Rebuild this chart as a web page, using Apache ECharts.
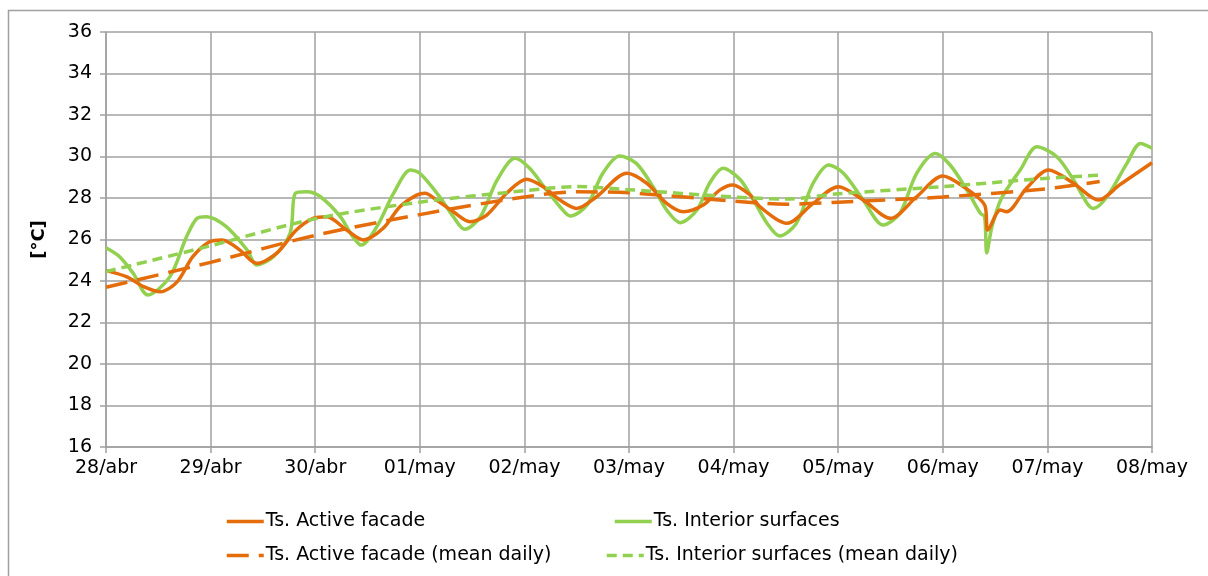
<!DOCTYPE html>
<html>
<head>
<meta charset="utf-8">
<script src="https://cdn.jsdelivr.net/npm/echarts@6/dist/echarts.min.js"></script>
<style>
  html, body { margin: 0; padding: 0; background: #fff; }
  #chart { width: 1208px; height: 576px; }
</style>
</head>
<body>
<div id="chart"></div>
<script>
// eje X: dias desde 28/abr
var dayLabels = ['28/abr', '29/abr', '30/abr', '01/may', '02/may', '03/may', '04/may', '05/may', '06/may', '07/may', '08/may'];

// Ts. Active facade
var activeDays = [0, 0.20, 0.36, 0.52, 0.68, 0.83, 0.99, 1.11, 1.28, 1.44, 1.63, 1.82, 1.98, 2.11, 2.30, 2.46, 2.65, 2.81, 2.97, 3.05,
    3.16, 3.32, 3.48, 3.64, 3.83, 4.02, 4.18, 4.34, 4.50, 4.69, 4.98, 5.17, 5.36, 5.52, 5.71, 5.87, 5.99, 6.16, 6.25, 6.51,
    6.76, 7.00, 7.24, 7.50, 7.75, 8.00, 8.20, 8.40, 8.43, 8.55, 8.61, 8.80, 9.01, 9.25, 9.49, 9.69, 10.0];
var activeVals = [24.5, 24.2, 23.73, 23.48, 23.96, 25.17, 25.89, 25.98, 25.49, 24.85, 25.33, 26.46, 27.02, 27.1, 26.46, 25.98, 26.54, 27.58, 28.14, 28.23,
    27.9, 27.34, 26.86, 27.18, 28.23, 28.9, 28.54, 27.9, 27.5, 28.06, 29.19, 28.71, 27.74, 27.34, 27.66, 28.39, 28.63, 28.14, 27.58, 26.78,
    27.74, 28.54, 27.9, 27.02, 28.06, 29.06, 28.54, 27.66, 26.46, 27.42, 27.34, 28.47, 29.35, 28.71, 27.9, 28.63, 29.7];

// Ts. Interior surfaces
var interiorDays = [0, 0.13, 0.26, 0.40, 0.61, 0.77, 0.87, 0.96, 1.15, 1.35, 1.44, 1.60, 1.76, 1.81, 1.92, 2.05, 2.24, 2.36, 2.44, 2.59,
    2.75, 2.91, 3.00, 3.19, 3.32, 3.43, 3.58, 3.74, 3.91, 4.05, 4.21, 4.34, 4.44, 4.60, 4.75, 4.91, 5.07, 5.23, 5.36, 5.49,
    5.65, 5.77, 5.90, 6.06, 6.19, 6.32, 6.44, 6.60, 6.76, 6.91, 7.05, 7.24, 7.43, 7.59, 7.75, 7.93, 8.07, 8.23, 8.36, 8.40,
    8.42, 8.47, 8.56, 8.74, 8.90, 9.09, 9.25, 9.38, 9.44, 9.57, 9.76, 9.89, 10.0];
var interiorVals = [25.6, 25.17, 24.37, 23.33, 24.2, 26.13, 27.02, 27.1, 26.62, 25.49, 24.77, 25.17, 26.3, 28.23, 28.3, 28.06, 27.1, 26.13, 25.73, 26.62,
    28.23, 29.35, 29.19, 28.06, 27.1, 26.49, 27.1, 28.87, 29.91, 29.43, 28.39, 27.58, 27.13, 27.66, 29.19, 30.02, 29.67, 28.54, 27.42, 26.81,
    27.42, 28.71, 29.43, 28.9, 27.9, 26.78, 26.17, 26.78, 28.71, 29.59, 29.19, 27.9, 26.7, 27.26, 29.19, 30.15, 29.59, 28.39, 27.26, 27.1,
    25.35, 26.62, 27.98, 29.35, 30.47, 29.99, 28.87, 27.74, 27.5, 28.06, 29.67, 30.63, 30.4];

// medias diarias
var meanDays = [0, 1, 2, 3, 4, 4.5, 5, 6, 6.5, 7, 8, 9, 9.5];
var activeMean = [23.7, 24.9, 26.2, 27.2, 28.05, 28.3, 28.25, 27.85, 27.7, 27.8, 28.05, 28.45, 28.8];
var interiorMean = [24.45, 25.7, 27.0, 27.8, 28.35, 28.55, 28.4, 28.05, 27.95, 28.2, 28.55, 28.95, 29.1];

var yTicks = [16, 36, 2]; // min, max, paso

function pairs(xs, ys) {
    return xs.map(function (x, i) { return [x, ys[i]]; });
}

var ORANGE = '#E46C0A';
var GREEN = '#92D050';
var GRID = '#A0A0A0';
var FONT = 'DejaVu Sans';
var FSIZE = 19;

var myChart = echarts.init(document.getElementById('chart'), null, { renderer: 'canvas' });

function oneLegend(name, left, top) {
    return {
        data: [name],
        left: left,
        top: top,
        padding: 0,
        itemWidth: 37,
        itemHeight: 14,
        itemGap: 0,
        itemStyle: { opacity: 0 },
        lineStyle: { width: 3.5 },
        textStyle: { fontFamily: FONT, fontSize: FSIZE, color: '#000', padding: [0, 0, 0, -3] },
        selectedMode: false
    };
}

var option = {
    animation: false,
    backgroundColor: '#fff',
    graphic: [{
        type: 'rect',
        shape: { x: 8.5, y: 10.5, width: 1220, height: 600 },
        style: { fill: 'none', stroke: '#A0A0A0', lineWidth: 1.5 },
        silent: true
    }],
    grid: { left: 106, right: 56, top: 32, bottom: 129 },
    legend: [
        oneLegend('Ts. Active facade', 225, 512),
        oneLegend('Ts. Interior surfaces', 613, 512),
        oneLegend('Ts. Active facade (mean daily)', 225, 546),
        oneLegend('Ts. Interior surfaces (mean daily)', 605, 546)
    ],
    xAxis: {
        type: 'value',
        min: 0,
        max: 10,
        interval: 1,
        axisLine: { show: true, onZero: false, lineStyle: { color: GRID, width: 1.5 } },
        axisTick: { show: true, length: 6, lineStyle: { color: GRID, width: 1.5 } },
        axisLabel: {
            fontFamily: FONT, fontSize: FSIZE, color: '#000', margin: 12,
            formatter: function (v) { return dayLabels[Math.round(v)]; }
        },
        splitLine: { show: true, lineStyle: { color: GRID, width: 1.5 } }
    },
    yAxis: {
        type: 'value',
        min: yTicks[0],
        max: yTicks[1],
        interval: yTicks[2],
        name: '[°C]',
        nameLocation: 'middle',
        nameGap: 58,
        nameTextStyle: { fontFamily: FONT, fontSize: 18, fontWeight: 'bold', color: '#000' },
        axisLine: { show: true, lineStyle: { color: GRID, width: 1.5 } },
        axisTick: { show: true, length: 6, lineStyle: { color: GRID, width: 1.5 } },
        axisLabel: { fontFamily: FONT, fontSize: FSIZE, color: '#000', margin: 14 },
        splitLine: { show: true, lineStyle: { color: GRID, width: 1.5 } }
    },
    series: [
        {
            name: 'Ts. Active facade',
            type: 'line',
            data: pairs(activeDays, activeVals),
            showSymbol: false,
            symbol: 'none',
            smooth: 0.3,
            lineStyle: { color: ORANGE, width: 3.5 },
            itemStyle: { color: ORANGE },
            z: 3
        },
        {
            name: 'Ts. Interior surfaces',
            type: 'line',
            data: pairs(interiorDays, interiorVals),
            showSymbol: false,
            symbol: 'none',
            smooth: 0.3,
            lineStyle: { color: GREEN, width: 3.5 },
            itemStyle: { color: GREEN },
            z: 2
        },
        {
            name: 'Ts. Active facade (mean daily)',
            type: 'line',
            data: pairs(meanDays, activeMean),
            showSymbol: false,
            symbol: 'none',
            smooth: 0.3,
            lineStyle: { color: ORANGE, width: 3.5, type: [22, 10] },
            itemStyle: { color: ORANGE },
            z: 4
        },
        {
            name: 'Ts. Interior surfaces (mean daily)',
            type: 'line',
            data: pairs(meanDays, interiorMean),
            showSymbol: false,
            symbol: 'none',
            smooth: 0.3,
            lineStyle: { color: GREEN, width: 3.5, type: [10, 6] },
            itemStyle: { color: GREEN },
            z: 4
        }
    ]
};
myChart.setOption(option);
</script>
</body>
</html>
